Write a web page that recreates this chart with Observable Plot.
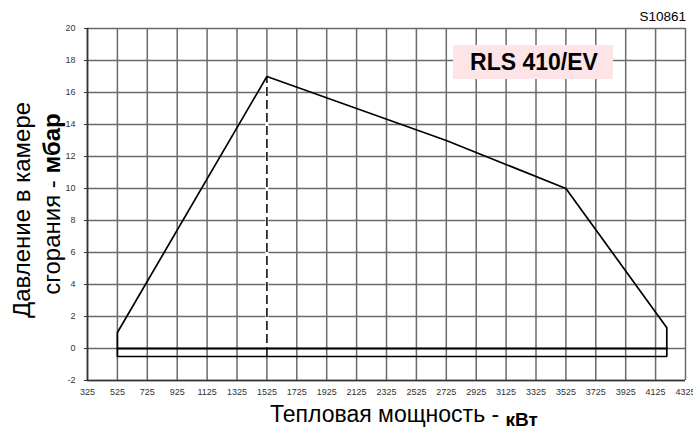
<!DOCTYPE html>
<html>
<head>
<meta charset="utf-8">
<script src="https://cdn.jsdelivr.net/npm/d3@7"></script>
<script src="https://cdn.jsdelivr.net/npm/@observablehq/plot@0.6"></script>
<style>
  html, body { margin: 0; padding: 0; background: #fff; }
  #chart { width: 693px; height: 430px; }
</style>
</head>
<body>
<div id="chart"></div>
<script>
// ---- data ----
const xTicks = [325, 525, 725, 925, 1125, 1325, 1525, 1725, 1925, 2125, 2325, 2525, 2725, 2925, 3125, 3325, 3525, 3725, 3925, 4125, 4325];
const yTicks = [-2, 0, 2, 4, 6, 8, 10, 12, 14, 16, 18, 20];

// working-field envelope: heat output (kW) vs combustion chamber pressure (mbar)
const envelopeKW   = [525, 525, 1525, 2725, 3525, 4200, 4200, 525];
const envelopeMbar = [-0.5, 1, 17, 13, 10, 1.3, -0.5, -0.5];

// zero-pressure base line
const baseKW   = [525, 4200];
const baseMbar = [0, 0];

// dashed marker at maximum pressure
const peakKW = [1525];
const peakTop = [17];
const peakBottom = [-0.5];

const modelName = "RLS 410/EV";
const codeLabel = "S10861";
const yTitleLine1 = "Давление в камере";
const yTitleLine2 = "сгорания - ";
const yTitleUnit = "мбар";
const xTitle = "Тепловая мощность - ";
const xTitleUnit = "кВт";

const FONT = "'Liberation Sans', Arial, Helvetica, sans-serif";
const GRID = "#6a6a6a";

const idxEnv = d3.range(envelopeKW.length);
const idxBase = d3.range(baseKW.length);
const idxPeak = d3.range(peakKW.length);

const chart = Plot.plot({
  width: 693,
  height: 430,
  marginLeft: 87,
  marginRight: 8,
  marginTop: 28,
  marginBottom: 50,
  style: { fontFamily: FONT, background: "#fff", color: "#000", overflow: "visible" },
  x: { domain: [325, 4325], label: null },
  y: { domain: [-2, 20], label: null },
  marks: [
    Plot.ruleX(xTicks, { stroke: GRID, strokeWidth: 1.5 }),
    Plot.ruleY(yTicks, { stroke: GRID, strokeWidth: 1.5 }),
    Plot.ruleX([xTicks[0]], { stroke: "#333", strokeWidth: 1.6 }),
    Plot.ruleY([yTicks[0]], { stroke: "#333", strokeWidth: 1.6 }),
    Plot.axisX({ ticks: xTicks, tickFormat: d => String(d), tickSize: 0, tickPadding: 8, fontSize: 9, fill: "#333", label: null }),
    Plot.axisY({ ticks: yTicks, tickFormat: d => String(d), tickSize: 3, tickPadding: 9, fontSize: 9, fill: "#333", stroke: "#333", label: null }),
    Plot.ruleX(idxPeak, { x: i => peakKW[i], y1: i => peakBottom[i], y2: i => peakTop[i], stroke: "#fff", strokeWidth: 3 }),
    Plot.ruleX(idxPeak, { x: i => peakKW[i], y1: i => peakBottom[i], y2: i => peakTop[i], stroke: "#000", strokeWidth: 1.5, strokeDasharray: "9,4" }),
    Plot.line(idxBase, { x: i => baseKW[i], y: i => baseMbar[i], stroke: "#000", strokeWidth: 2 }),
    Plot.line(idxEnv, { x: i => envelopeKW[i], y: i => envelopeMbar[i], stroke: "#000", strokeWidth: 1.7, strokeLinejoin: "miter" })
  ]
});

const svg = d3.select(chart);

// model name box
const box = svg.append("g");
box.append("rect").attr("x", 453).attr("y", 45).attr("width", 160).attr("height", 34).attr("fill", "#fde4e6");
box.append("text").attr("x", 534).attr("y", 69.5).attr("text-anchor", "middle")
  .attr("font-family", FONT).attr("font-weight", "bold").attr("font-size", 23).attr("fill", "#000")
  .text(modelName);

// drawing code
svg.append("text").attr("x", 686).attr("y", 21).attr("text-anchor", "end")
  .attr("font-family", FONT).attr("font-size", 13.5).attr("fill", "#000").text(codeLabel);

// y title (two lines, rotated)
svg.append("text").attr("transform", "translate(30,210) rotate(-90)").attr("text-anchor", "middle")
  .attr("font-family", FONT).attr("font-size", 24).attr("fill", "#000").text(yTitleLine1);
const y2 = svg.append("text").attr("transform", "translate(60,204) rotate(-90)").attr("text-anchor", "middle")
  .attr("font-family", FONT).attr("font-size", 24).attr("fill", "#000");
y2.append("tspan").text(yTitleLine2);
y2.append("tspan").attr("font-weight", "bold").text(yTitleUnit);

// x title
const xt = svg.append("text").attr("x", 270).attr("y", 422).attr("text-anchor", "start")
  .attr("font-family", FONT).attr("font-size", 23).attr("fill", "#000");
xt.append("tspan").text(xTitle);
xt.append("tspan").attr("font-weight", "bold").attr("font-size", 19).attr("dy", 4).text(xTitleUnit);

document.getElementById("chart").appendChild(chart);
</script>
</body>
</html>
